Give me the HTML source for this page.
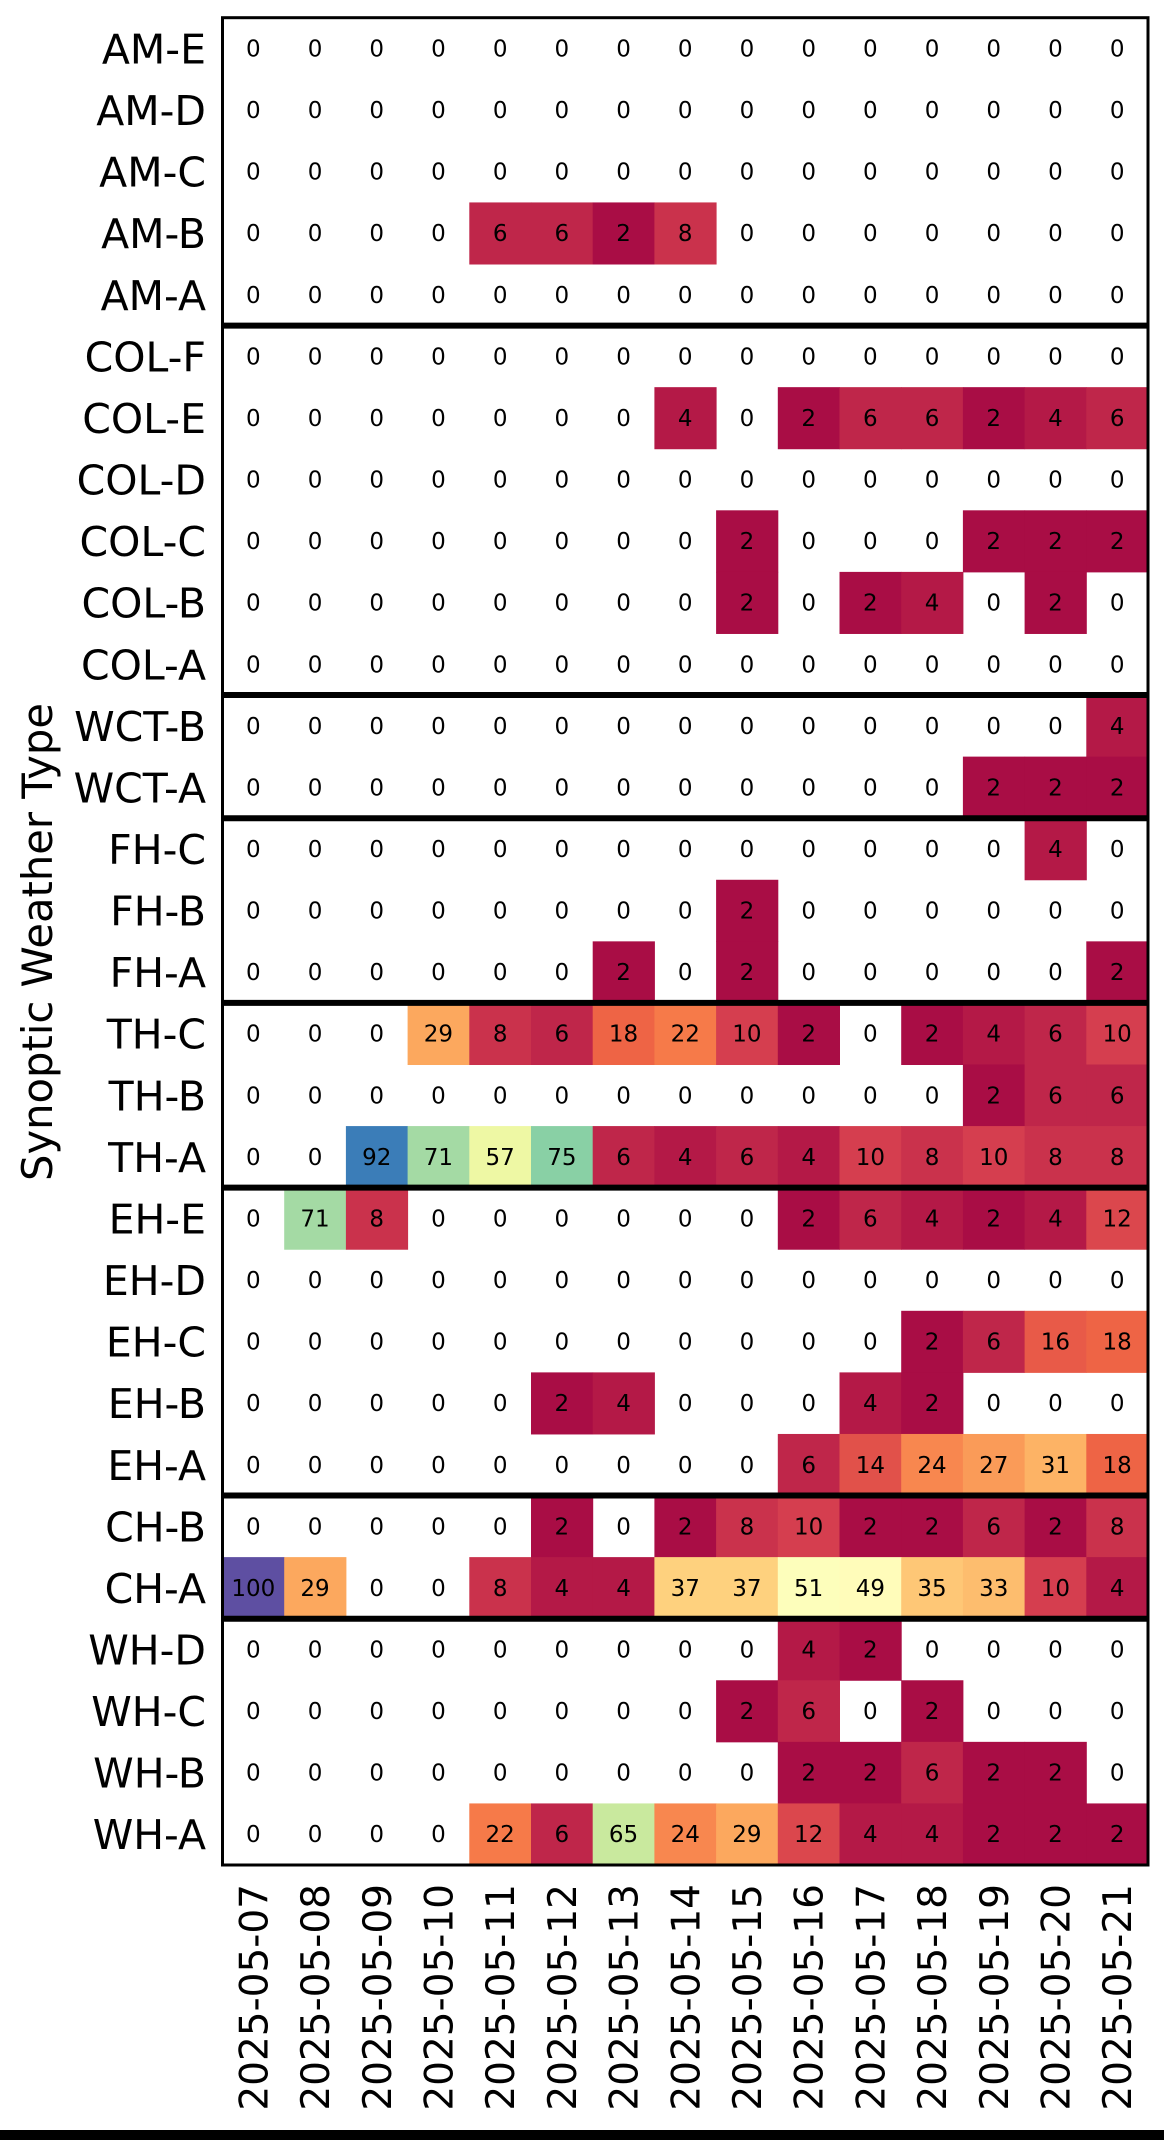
<!DOCTYPE html>
<html><head><meta charset="utf-8"><style>
html,body{margin:0;padding:0;background:#fff;}
body{width:1164px;height:2140px;overflow:hidden;position:relative;}
</style></head><body>
<svg id="s" width="1164" height="2140" xmlns="http://www.w3.org/2000/svg" style="position:absolute;left:0;top:0"></svg>
<script>
const rows=[
["AM-E",[0,0,0,0,0,0,0,0,0,0,0,0,0,0,0]],
["AM-D",[0,0,0,0,0,0,0,0,0,0,0,0,0,0,0]],
["AM-C",[0,0,0,0,0,0,0,0,0,0,0,0,0,0,0]],
["AM-B",[0,0,0,0,6,6,2,8,0,0,0,0,0,0,0]],
["AM-A",[0,0,0,0,0,0,0,0,0,0,0,0,0,0,0]],
["COL-F",[0,0,0,0,0,0,0,0,0,0,0,0,0,0,0]],
["COL-E",[0,0,0,0,0,0,0,4,0,2,6,6,2,4,6]],
["COL-D",[0,0,0,0,0,0,0,0,0,0,0,0,0,0,0]],
["COL-C",[0,0,0,0,0,0,0,0,2,0,0,0,2,2,2]],
["COL-B",[0,0,0,0,0,0,0,0,2,0,2,4,0,2,0]],
["COL-A",[0,0,0,0,0,0,0,0,0,0,0,0,0,0,0]],
["WCT-B",[0,0,0,0,0,0,0,0,0,0,0,0,0,0,4]],
["WCT-A",[0,0,0,0,0,0,0,0,0,0,0,0,2,2,2]],
["FH-C",[0,0,0,0,0,0,0,0,0,0,0,0,0,4,0]],
["FH-B",[0,0,0,0,0,0,0,0,2,0,0,0,0,0,0]],
["FH-A",[0,0,0,0,0,0,2,0,2,0,0,0,0,0,2]],
["TH-C",[0,0,0,29,8,6,18,22,10,2,0,2,4,6,10]],
["TH-B",[0,0,0,0,0,0,0,0,0,0,0,0,2,6,6]],
["TH-A",[0,0,92,71,57,75,6,4,6,4,10,8,10,8,8]],
["EH-E",[0,71,8,0,0,0,0,0,0,2,6,4,2,4,12]],
["EH-D",[0,0,0,0,0,0,0,0,0,0,0,0,0,0,0]],
["EH-C",[0,0,0,0,0,0,0,0,0,0,0,2,6,16,18]],
["EH-B",[0,0,0,0,0,2,4,0,0,0,4,2,0,0,0]],
["EH-A",[0,0,0,0,0,0,0,0,0,6,14,24,27,31,18]],
["CH-B",[0,0,0,0,0,2,0,2,8,10,2,2,6,2,8]],
["CH-A",[100,29,0,0,8,4,4,37,37,51,49,35,33,10,4]],
["WH-D",[0,0,0,0,0,0,0,0,0,4,2,0,0,0,0]],
["WH-C",[0,0,0,0,0,0,0,0,2,6,0,2,0,0,0]],
["WH-B",[0,0,0,0,0,0,0,0,0,2,2,6,2,2,0]],
["WH-A",[0,0,0,0,22,6,65,24,29,12,4,4,2,2,2]]];
const cm=["#9e0142","#d53e4f","#f46d43","#fdae61","#fee08b","#ffffbf","#e6f598","#abdda4","#66c2a5","#3288bd","#5e4fa2"];
function hx(h){return [1,3,5].map(i=>parseInt(h.substr(i,2),16));}
function col(v){let t=v/100*10;let i=Math.min(9,Math.floor(t));let f=t-i;let a=hx(cm[i]),b=hx(cm[i+1]);
return "rgb("+a.map((x,k)=>Math.round(x+(b[k]-x)*f)).join(",")+")";}
const L=222.5,R=1148,T=17.7,B=1865,cw=(R-L)/15,rh=(B-T)/30;
let s="";
rows.forEach((r,i)=>{const y=T+i*rh;
s+=`<text x="206" y="${y+rh/2+15}" text-anchor="end" font-family="DejaVu Sans,Liberation Sans,sans-serif" font-size="41">${r[0]}</text>`;
r[1].forEach((v,j)=>{const x=L+j*cw;
if(v>0)s+=`<rect x="${x}" y="${y}" width="${cw+0.5}" height="${rh+0.5}" fill="${col(v)}"/>`;
s+=`<text x="${x+cw/2}" y="${y+rh/2+8}" text-anchor="middle" font-family="DejaVu Sans,Liberation Sans,sans-serif" font-size="23">${v}</text>`;});});
[5,11,13,16,19,24,26].forEach(k=>{const y=T+k*rh;s+=`<line x1="${L}" x2="${R}" y1="${y}" y2="${y}" stroke="#000" stroke-width="6"/>`;});
s+=`<rect x="${L}" y="${T}" width="${R-L}" height="${B-T}" fill="none" stroke="#000" stroke-width="3"/>`;
for(let j=0;j<15;j++){const x=L+j*cw+cw/2+14;const d=String(7+j).padStart(2,"0");
s+=`<text transform="translate(${x},1884) rotate(-90)" text-anchor="end" font-family="DejaVu Sans,Liberation Sans,sans-serif" font-size="39">2025-05-${d}</text>`;}
s+=`<text transform="translate(52,942) rotate(-90)" text-anchor="middle" font-family="DejaVu Sans,Liberation Sans,sans-serif" font-size="42" textLength="478" lengthAdjust="spacingAndGlyphs">Synoptic Weather Type</text>`;
s+=`<rect x="0" y="2130" width="1164" height="10" fill="#000"/>`;
document.getElementById("s").innerHTML=s;
</script>
</body></html>
